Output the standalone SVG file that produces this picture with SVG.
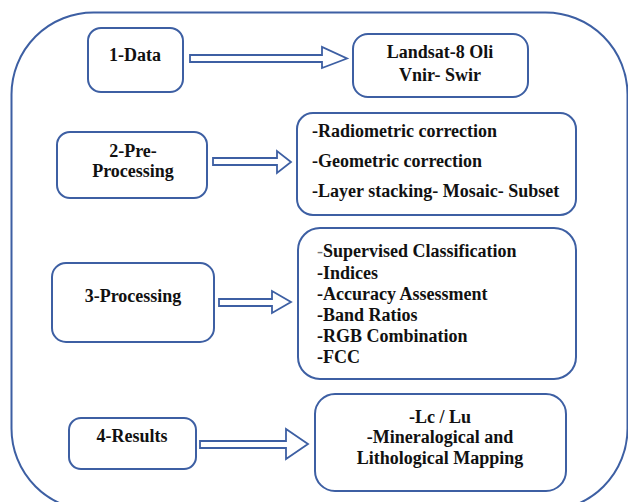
<svg xmlns="http://www.w3.org/2000/svg" width="628" height="502" viewBox="0 0 628 502">
<style>
.frame{fill:none;stroke:#3d5fa3;stroke-width:2}
.box{fill:#fff;stroke:#3d5fa3;stroke-width:2}
.arr{fill:#fff;stroke:#3d5fa3;stroke-width:1.8;stroke-linejoin:miter}
text{font-family:"Liberation Serif","Times New Roman",serif;font-weight:bold;font-size:18px;fill:#111}
.c{text-anchor:middle}
.thin{font-weight:normal;fill:#777}
</style>
<rect class="frame" x="11.5" y="12.5" width="616" height="498" rx="82" ry="82"/>
<g id="connectors">
<polygon class="arr" points="190,55 322,55 322,47 347,58.5 322,68 322,62 190,62"/>
<polygon class="arr" points="213,158 277,158 277,151 291,162 277,173 277,165 213,165"/>
<polygon class="arr" points="219,299 272,299 272,291 291,302 272,313 272,306 219,306"/>
<polygon class="arr" points="200,441 286,441 286,429 308,444 286,459 286,448 200,448"/>
</g>
<g id="n1">
<rect class="box" x="88" y="28" width="95" height="64" rx="13"/>
<text class="c" x="135" y="61">1-Data</text>
</g>
<g id="n2">
<rect class="box" x="353" y="34" width="175" height="63" rx="15"/>
<text class="c" x="440" y="58">Landsat-8 Oli</text>
<text class="c" x="440" y="81">Vnir- Swir</text>
</g>
<g id="n3">
<rect class="box" x="57" y="132" width="150" height="66" rx="13"/>
<text class="c" x="133" y="157">2-Pre-</text>
<text class="c" x="133" y="177">Processing</text>
</g>
<g id="n4">
<rect class="box" x="297" y="113" width="279" height="102" rx="16"/>
<text x="312" y="137">-Radiometric correction</text>
<text x="312" y="167">-Geometric correction</text>
<text x="312" y="197">-Layer stacking- Mosaic- Subset</text>
</g>
<g id="n5">
<rect class="box" x="52" y="263" width="162" height="79" rx="14"/>
<text class="c" x="133" y="302">3-Processing</text>
</g>
<g id="n6">
<rect class="box" x="298" y="228" width="278" height="151" rx="22"/>
<text x="317" y="257"><tspan class="thin">-</tspan>Supervised Classification</text>
<text x="317" y="279">-Indices</text>
<text x="317" y="300">-Accuracy Assessment</text>
<text x="317" y="321">-Band Ratios</text>
<text x="317" y="342">-RGB Combination</text>
<text x="317" y="363">-FCC</text>
</g>
<g id="n7">
<rect class="box" x="69" y="418" width="127" height="51" rx="12"/>
<text class="c" x="132" y="442">4-Results</text>
</g>
<g id="n8">
<rect class="box" x="315" y="394" width="251" height="97" rx="20"/>
<text class="c" x="440" y="423">-Lc / Lu</text>
<text class="c" x="440" y="443">-Mineralogical and</text>
<text class="c" x="440" y="464">Lithological Mapping</text>
</g>
</svg>
